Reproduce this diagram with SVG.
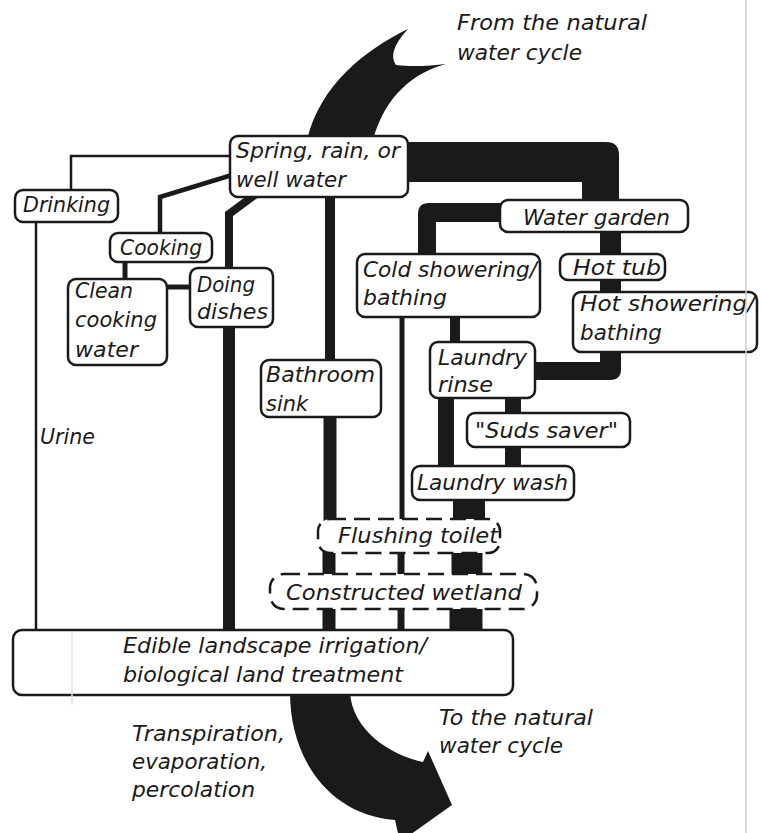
<svg xmlns="http://www.w3.org/2000/svg" width="763" height="833" viewBox="0 0 763 833">
<style>
.box{fill:#fff;stroke:#1a1a1a;stroke-width:2.5}
.dash{fill:#fff;stroke:#1a1a1a;stroke-width:2.5;stroke-dasharray:16 8}
.t{font-family:"DejaVu Sans","Liberation Sans",sans-serif;font-style:italic;font-size:21px;fill:#1a1a1a}
.ln{stroke:#1a1a1a;fill:none;stroke-linejoin:miter}
.blk{fill:#1a1a1a;stroke:none}
</style>
<rect width="763" height="833" fill="#fff"/>
<g id="flows">
<path class="blk" d="M307,140 C320,85 365,50 408,29 C396,42 389,55 396,65 C412,67 430,66 446,64 C415,72 385,95 373,140 Z"/>
<path class="blk" d="M290,692 C290,760 330,815 395,820 L400,842 L452,805 L428,751 L423,762 C390,755 352,730 350,692 Z"/>
</g>
<g id="connectors">
<path class="blk" d="M400,142 H606 Q619,142 619,155 V205 H582 V182 H400 Z"/>
<path class="blk" d="M600,228 H621 V369 Q621,380 610,380 H530 V362 H600 Z"/>
<path class="blk" d="M505,203 H429 Q418,203 418,214 V258 H436 V222 H505 Z"/>
<polyline class="ln" stroke-width="2.5" points="232,156 71,156 71,192"/>
<line class="ln" stroke-width="2.5" x1="36" y1="220" x2="36" y2="633"/>
<polyline class="ln" stroke-width="4.5" points="232,175 160,197 160,235"/>
<line class="ln" stroke-width="5" x1="125" y1="260" x2="125" y2="281"/>
<line class="ln" stroke-width="5" x1="165" y1="287" x2="192" y2="287"/>
<polyline class="ln" stroke-width="8" points="256,194 229,214 229,270"/>
<line class="ln" stroke-width="12" x1="229" y1="325" x2="229" y2="633"/>
<line class="ln" stroke-width="10" x1="330" y1="195" x2="330" y2="362"/>
<line class="ln" stroke-width="13" x1="330" y1="415" x2="330" y2="521"/>
<line class="ln" stroke-width="13" x1="329" y1="551" x2="329" y2="576"/>
<line class="ln" stroke-width="13" x1="329" y1="607" x2="329" y2="632"/>
<line class="ln" stroke-width="5" x1="402" y1="315" x2="402" y2="521"/>
<line class="ln" stroke-width="7" x1="401" y1="551" x2="401" y2="576"/>
<line class="ln" stroke-width="7" x1="401" y1="607" x2="401" y2="632"/>
<line class="ln" stroke-width="10" x1="455" y1="315" x2="455" y2="344"/>
<line class="ln" stroke-width="16" x1="446" y1="396" x2="446" y2="468"/>
<line class="ln" stroke-width="16" x1="513" y1="396" x2="513" y2="415"/>
<line class="ln" stroke-width="16" x1="513" y1="445" x2="513" y2="468"/>
<line class="ln" stroke-width="32" x1="469" y1="498" x2="469" y2="521"/>
<line class="ln" stroke-width="31" x1="467" y1="551" x2="467" y2="576"/>
<line class="ln" stroke-width="33" x1="466" y1="607" x2="466" y2="632"/>
</g>
<g id="spring"><rect class="box" x="230" y="136" width="178" height="61" rx="8"/>
<text class="t" x="236" y="158" textLength="164" lengthAdjust="spacingAndGlyphs">Spring, rain, or</text>
<text class="t" x="236" y="187" textLength="110" lengthAdjust="spacingAndGlyphs">well water</text></g>
<g id="drinking"><rect class="box" x="15" y="190" width="103" height="32" rx="8"/>
<text class="t" x="23" y="212" textLength="87" lengthAdjust="spacingAndGlyphs">Drinking</text></g>
<g id="cooking"><rect class="box" x="110" y="233" width="102" height="29" rx="8"/>
<text class="t" x="120" y="255" textLength="82" lengthAdjust="spacingAndGlyphs">Cooking</text></g>
<g id="clean"><rect class="box" x="68" y="279" width="99" height="86" rx="8"/>
<text class="t" x="75" y="298" textLength="58" lengthAdjust="spacingAndGlyphs">Clean</text>
<text class="t" x="75" y="327" textLength="82" lengthAdjust="spacingAndGlyphs">cooking</text>
<text class="t" x="75" y="357" textLength="63" lengthAdjust="spacingAndGlyphs">water</text></g>
<g id="dishes"><rect class="box" x="190" y="268" width="83" height="59" rx="8"/>
<text class="t" x="197" y="292" textLength="58" lengthAdjust="spacingAndGlyphs">Doing</text>
<text class="t" x="197" y="319" textLength="71" lengthAdjust="spacingAndGlyphs">dishes</text></g>
<g id="bathroom"><rect class="box" x="261" y="360" width="120" height="57" rx="8"/>
<text class="t" x="266" y="382" textLength="109" lengthAdjust="spacingAndGlyphs">Bathroom</text>
<text class="t" x="266" y="411" textLength="42" lengthAdjust="spacingAndGlyphs">sink</text></g>
<g id="watergarden"><rect class="box" x="500" y="200" width="188" height="32" rx="8"/>
<text class="t" x="523" y="225" textLength="147" lengthAdjust="spacingAndGlyphs">Water garden</text></g>
<g id="cold"><rect class="box" x="357" y="254" width="183" height="63" rx="8"/>
<text class="t" x="363" y="277" textLength="174" lengthAdjust="spacingAndGlyphs">Cold showering/</text>
<text class="t" x="363" y="305" textLength="84" lengthAdjust="spacingAndGlyphs">bathing</text></g>
<g id="hottub"><rect class="box" x="560" y="254" width="105" height="26" rx="8"/>
<text class="t" x="573" y="275" textLength="88" lengthAdjust="spacingAndGlyphs">Hot tub</text></g>
<g id="hotshower"><rect class="box" x="573" y="292" width="184" height="60" rx="8"/>
<text class="t" x="580" y="311" textLength="175" lengthAdjust="spacingAndGlyphs">Hot showering/</text>
<text class="t" x="580" y="340" textLength="82" lengthAdjust="spacingAndGlyphs">bathing</text></g>
<g id="rinse"><rect class="box" x="430" y="342" width="105" height="56" rx="8"/>
<text class="t" x="438" y="365" textLength="89" lengthAdjust="spacingAndGlyphs">Laundry</text>
<text class="t" x="438" y="392" textLength="55" lengthAdjust="spacingAndGlyphs">rinse</text></g>
<g id="suds"><rect class="box" x="467" y="413" width="163" height="34" rx="8"/>
<text class="t" x="475" y="438" textLength="143" lengthAdjust="spacingAndGlyphs">"Suds saver"</text></g>
<g id="wash"><rect class="box" x="412" y="466" width="162" height="34" rx="8"/>
<text class="t" x="417" y="490" textLength="151" lengthAdjust="spacingAndGlyphs">Laundry wash</text></g>
<g id="toilet"><rect class="dash" x="318" y="519" width="182" height="34" rx="12"/>
<text class="t" x="338" y="543" textLength="160" lengthAdjust="spacingAndGlyphs">Flushing toilet</text></g>
<g id="wetland"><rect class="dash" x="270" y="574" width="267" height="35" rx="14"/>
<text class="t" x="286" y="600" textLength="236" lengthAdjust="spacingAndGlyphs">Constructed wetland</text></g>
<g id="edible"><rect class="box" x="13" y="630" width="500" height="65" rx="9"/>
<text class="t" x="123" y="653" textLength="304" lengthAdjust="spacingAndGlyphs">Edible landscape irrigation/</text>
<text class="t" x="123" y="682" textLength="280" lengthAdjust="spacingAndGlyphs">biological land treatment</text></g>
<g id="labels">
<text class="t" x="457" y="30" textLength="190" lengthAdjust="spacingAndGlyphs">From the natural</text>
<text class="t" x="457" y="60" textLength="125" lengthAdjust="spacingAndGlyphs">water cycle</text>
<text class="t" x="439" y="725" textLength="154" lengthAdjust="spacingAndGlyphs">To the natural</text>
<text class="t" x="439" y="753" textLength="124" lengthAdjust="spacingAndGlyphs">water cycle</text>
<text class="t" x="132" y="741" textLength="153" lengthAdjust="spacingAndGlyphs">Transpiration,</text>
<text class="t" x="132" y="769" textLength="135" lengthAdjust="spacingAndGlyphs">evaporation,</text>
<text class="t" x="132" y="797" textLength="123" lengthAdjust="spacingAndGlyphs">percolation</text>
<text class="t" x="40" y="444" textLength="55" lengthAdjust="spacingAndGlyphs">Urine</text>
</g>
<g id="page-edge">
<line x1="746" y1="0" x2="746" y2="833" stroke="#cfcfcf" stroke-width="1.5"/>
<line x1="72" y1="632" x2="72" y2="705" stroke="#e2e2e2" stroke-width="1.5"/>
</g>
</svg>
